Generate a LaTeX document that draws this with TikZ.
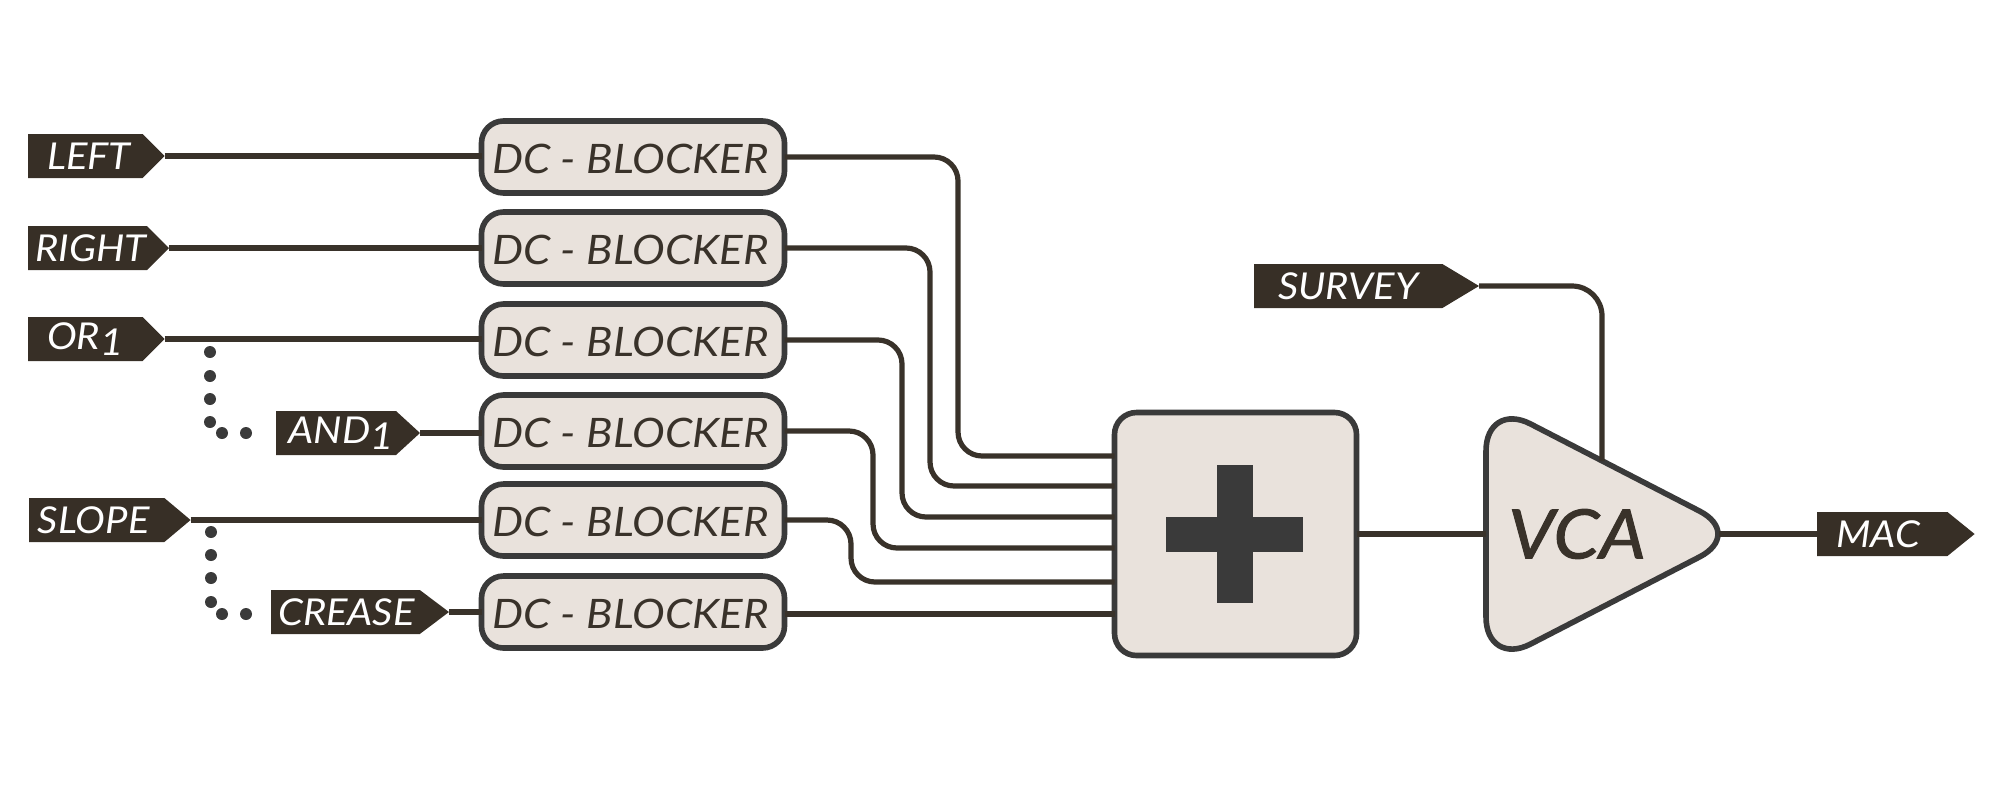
\documentclass[tikz,border=0pt]{standalone}
\usepackage{fontspec}
\setmainfont{Lato}[FakeStretch=1.08]
\newfontfamily\vcafont{Lato}[FakeStretch=1.08,FakeBold=1.5]
\usetikzlibrary{shapes.symbols}
\definecolor{tagdark}{HTML}{372F26}
\definecolor{wiredark}{HTML}{39322A}
\definecolor{linedark}{HTML}{3A3A3A}
\definecolor{boxfill}{HTML}{E9E2DC}
\tikzset{
  wire/.style={draw=wiredark,line width=2.6pt},
  tagbox/.style={signal,signal to=east,signal from=nowhere,signal pointer angle=#1,fill=tagdark,text=white,
    minimum height=22pt,inner sep=0pt,outer sep=0pt,anchor=west,font=\itshape\fontsize{18.5}{20}\selectfont},
  dcbox/.style={draw=linedark,fill=boxfill,line width=2.8pt,rounded corners=11pt,minimum width=151.5pt,minimum height=36pt,
    inner sep=0pt,outer sep=0pt,text=wiredark,text height=16.5pt,text depth=0pt,font=\itshape\fontsize{20.3}{22}\selectfont},
  sumbox/.style={draw=linedark,fill=boxfill,line width=2.8pt,rounded corners=11pt,minimum width=121pt,minimum height=121.5pt,
    inner sep=0pt,outer sep=0pt},
  ampline/.style={draw=linedark,fill=boxfill,line width=2.8pt,rounded corners=25pt},
}
\begin{document}
\begin{tikzpicture}[x=0.5pt,y=-0.5pt]
\useasboundingbox (0,0) rectangle (2000,799);

% Input tags
\node[tagbox=90,minimum width=68.3pt] (tagleft) at (28,156) {\hspace*{3.7pt}LEFT};
\node[tagbox=90,minimum width=70.5pt] (tagright) at (28,248) {\hspace*{3.5pt}RIGHT};
\node[tagbox=90,minimum width=68.3pt] (tagor) at (28,339) {OR\raisebox{-3pt}{1}};
\node[tagbox=85,minimum width=72pt] (tagand) at (276,433) {\hspace*{5pt}AND\raisebox{-3pt}{1}};
\node[tagbox=80,minimum width=80.8pt] (tagslope) at (29,520) {SLOPE\hspace*{3pt}};
\node[tagbox=74,minimum width=89pt] (tagcrease) at (271,612) {\hspace*{1pt}CREASE};
\node[tagbox=62,minimum width=112.5pt] (tagsurvey) at (1254,286) {SURVEY};
\node[tagbox=78,minimum width=78.8pt] (tagmac) at (1817,534) {MAC\hspace*{4pt}};

% DC blockers
\foreach \i/\yc in {1/157,2/248,3/340,4/431,5/520,6/612} {
    \node[dcbox] (dc\i) at (633,\yc) {DC - BLOCKER\hspace*{2.5pt}};
}

% Summing box
\node[sumbox] (sum) at (1235.5,534) {};
\fill[linedark] (1217,465) rectangle (1253,603);
\fill[linedark] (1166,517) rectangle (1303,552);

% VCA
\coordinate (vcain) at (1486,534);
\coordinate (vcaout) at (1719,534);
\coordinate (vcacv) at (1602,461);
\path[ampline] (vcain) -- (1486,401) -- (1744,534) -- (1486,667) -- cycle;
\node[text=wiredark,inner sep=0pt,font=\vcafont\itshape\fontsize{34}{38}\selectfont] (vca) at (1577,534) {VCA};

% Wires in
\foreach \tagname/\i in {tagleft/1,tagright/2,tagor/3,tagand/4,tagslope/5,tagcrease/6} {
    \draw[wire] (\tagname.east) -- (\tagname.east -| dc\i.west);
}

% Wires to the sum
\foreach \i/\xv/\yv in {1/958/456,2/930/486,3/902/517,4/873/548,5/851/582} {
    \draw[wire,rounded corners=12pt] (dc\i.east) -| (\xv,\yv) -- (sum.west |- 0,\yv);
}
\draw[wire] (dc6.east |- 0,614) -- (sum.west |- 0,614);

% Wires out
\draw[wire] (sum.east) -- (vcain);
\draw[wire] (vcaout) -- (tagmac.west);
\draw[wire,rounded corners=15pt] (tagsurvey.east) -| (vcacv);

% Dots
\foreach \px/\py in {210/352,210/376,210/399,210/422,222/433,246/433,211/532,211/555,211/578,211/602,222/614,246/614} {
    \fill[linedark] (\px,\py) circle (6);
}
\end{tikzpicture}
\end{document}
